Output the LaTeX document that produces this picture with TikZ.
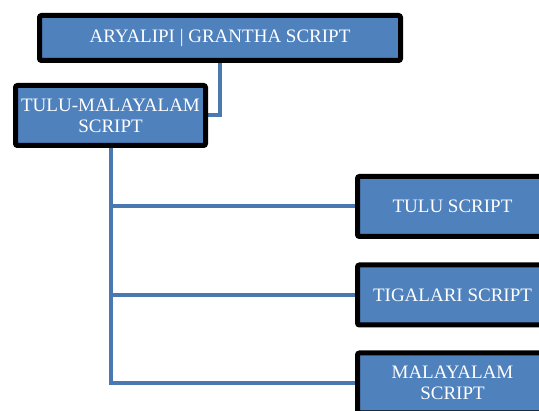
\documentclass[tikz,border=0pt]{standalone}
\usepackage{fontspec}
\setmainfont{Liberation Serif}
\usetikzlibrary{backgrounds}
\definecolor{boxblue}{HTML}{4F81BD}
\definecolor{linkblue}{HTML}{4A78B0}

\begin{document}
\begin{tikzpicture}[
    x=1pt, y=-1pt,
    script/.style={rectangle, draw=black, line width=5pt, rounded corners=2pt, fill=boxblue, text=white, align=center, font=\fontsize{19}{21}\selectfont, inner sep=0pt},
    link/.style={draw=linkblue, line width=4pt}
]
\useasboundingbox (0,0) rectangle (539,411);

% Script boxes
\node[script, minimum width=361pt, minimum height=45pt] (aryalipi) at (220, 38) {ARYALIPI | GRANTHA SCRIPT};
\node[script, minimum width=190pt, minimum height=60pt] (tulumal) at (110.5, 115.5) {TULU-MALAYALAM\\SCRIPT};

% Child scripts (right column, cut by the page edge)
\node[script, minimum width=190pt, minimum height=60pt] (tulu) at (452.5, 206.5) {TULU SCRIPT};
\node[script, minimum width=190pt, minimum height=60pt] (tigalari) at (452.5, 295) {TIGALARI SCRIPT};
\node[script, minimum width=190pt, minimum height=60pt] (malayalam) at (452.5, 383) {MALAYALAM\\SCRIPT};

% Connectors behind the boxes
\begin{scope}[on background layer]
\draw[link] (aryalipi.south) |- (tulumal.east);
\draw[link] (tulumal.south) |- (malayalam.west);
\draw[link] (tulumal.south |- tulu.west) -- (tulu.west);
\draw[link] (tulumal.south |- tigalari.west) -- (tigalari.west);
\end{scope}

\end{tikzpicture}
\end{document}
